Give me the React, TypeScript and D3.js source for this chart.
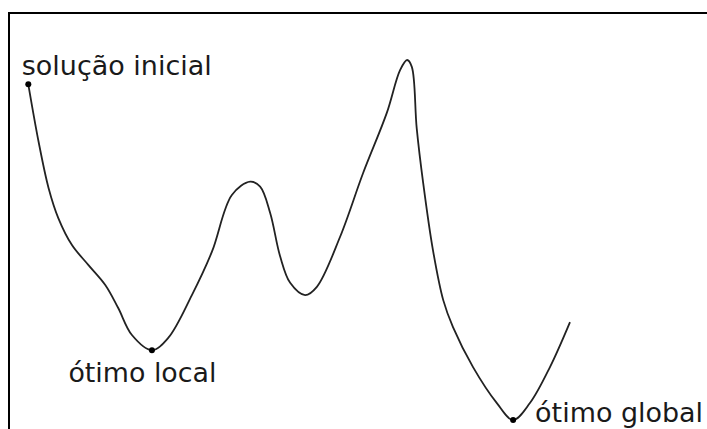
import React from "react";
import * as d3 from "d3";

// Solution space (x) and cost (y), abstract units 0..100
const solutionX = [0, 1.9, 3.75, 5.54, 8.06, 11.07, 14.21, 16.6, 19.13, 22.82, 25.83, 30.2, 33.9, 37.58, 40.96, 42.8, 44.65, 46.5, 48.34, 51.1, 53.27, 57.56, 61.81, 66.18, 68.63, 69.93, 70.8, 71.7, 72.9, 74.7, 76.6, 78.4, 82.1, 86.5, 89.5, 92.6, 96.3, 100];
const costY = [93.25, 77.3, 64.4, 56.1, 48.6, 43.1, 37.5, 31.1, 23.6, 19.4, 22.8, 34.7, 46.75, 62.5, 66.2, 64.8, 57.5, 45.4, 38.1, 34.7, 37.0, 50.9, 68.6, 85.3, 97.2, 100, 98.1, 81.1, 65.8, 47.2, 33.3, 25.8, 14.7, 4.7, 0, 4.7, 14.7, 27.2];

// Marked points (indices into the series) and their labels
const markedIndex = [0, 9, 34];
const markedLabels = ["solução inicial", "ótimo local", "ótimo global"];

const W = 707;
const H = 429;

export default function App() {
  const x = d3.scaleLinear().domain([0, 100]).range([28.3, 570]);
  const y = d3.scaleLinear().domain([0, 100]).range([420, 60]);

  const pts: [number, number][] = solutionX.map((v, i) => [x(v), y(costY[i])]);
  const line = d3
    .line<[number, number]>()
    .x((d) => d[0])
    .y((d) => d[1])
    .curve(d3.curveCatmullRom.alpha(0.5));

  const labelOffsets = [
    { dx: -6.5, dy: -9.5, len: 190 },
    { dx: -83.5, dy: 31.7, len: 148 },
    { dx: 22, dy: 1.7, len: 168 },
  ];

  return (
    <div style={{ position: "fixed", left: 0, top: 0, width: W, height: H, background: "#fff" }}>
      <svg width={W} height={H} viewBox={`0 0 ${W} ${H}`} style={{ display: "block" }}>
        <rect x={0} y={0} width={W} height={H} fill="#fff" />
        <path d={`M9,${H + 5}V13H${W + 5}`} fill="none" stroke="#000" strokeWidth={2} />
        <path d={line(pts) || ""} fill="none" stroke="#222" strokeWidth={1.8} strokeLinejoin="round" />
        {markedIndex.map((idx, k) => {
          const px = x(solutionX[idx]);
          const py = y(costY[idx]);
          const o = labelOffsets[k];
          return (
            <g key={k}>
              <circle cx={px} cy={py} r={3} fill="#000" />
              <text
                x={px + o.dx}
                y={py + o.dy}
                fontFamily="DejaVu Sans, Verdana, sans-serif"
                fontSize={26}
                fill="#1a1a1a"
                textLength={o.len}
                lengthAdjust="spacingAndGlyphs"
              >
                {markedLabels[k]}
              </text>
            </g>
          );
        })}
      </svg>
    </div>
  );
}
